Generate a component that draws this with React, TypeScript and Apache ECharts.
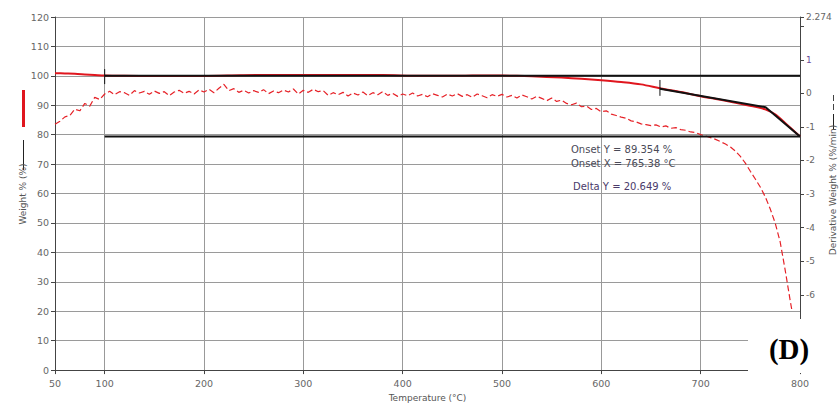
import React, { useEffect, useRef } from "react";
import * as echarts from "echarts";

// Weight % (left axis)
const weightTemps = [50, 60, 70, 80, 90, 100, 120, 150, 200, 237, 260, 300, 340, 380, 420, 450, 470, 500, 530, 560, 580, 600, 620, 640, 660, 680, 700, 720, 740, 755, 765, 775, 785, 795, 800];
const weightValues = [100.9, 100.8, 100.7, 100.5, 100.3, 100.1, 100.0, 99.95, 99.95, 100.2, 100.3, 100.3, 100.3, 100.25, 100.0, 100.0, 100.15, 100.1, 99.85, 99.4, 99.0, 98.5, 97.9, 97.1, 95.7, 94.5, 93.1, 91.85, 90.55, 89.5, 88.6, 86.9, 84.0, 80.9, 79.4];

// Derivative weight % (right axis)
const derivTemps = [50, 55, 60, 65, 70, 75, 80, 85, 90, 95, 100, 105, 110, 115, 120, 125, 130, 135, 140, 145, 150, 155, 160, 165, 170, 175, 180, 185, 190, 195, 200, 205, 210, 215, 220, 225, 230, 235, 240, 245, 250, 255, 260, 265, 270, 275, 280, 285, 290, 295, 300, 305, 310, 315, 320, 325, 330, 335, 340, 345, 350, 355, 360, 365, 370, 375, 380, 385, 390, 395, 400, 405, 410, 415, 420, 425, 430, 435, 440, 445, 450, 455, 460, 465, 470, 475, 480, 485, 490, 495, 500, 505, 510, 515, 520, 525, 530, 535, 540, 545, 550, 555, 560, 565, 570, 575, 580, 585, 590, 595, 600, 605, 610, 615, 620, 625, 630, 635, 640, 645, 650, 655, 660, 665, 670, 675, 680, 685, 690, 695, 700, 705, 710, 715, 720, 725, 730, 735, 740, 745, 750, 755, 760, 765, 770, 775, 780, 785, 790, 792];
const derivValues = [-0.92, -0.83, -0.70, -0.66, -0.47, -0.52, -0.30, -0.38, -0.12, -0.18, -0.02, 0.06, -0.04, 0.05, 0.02, -0.06, 0.08, 0.01, 0.06, -0.03, 0.07, 0.00, 0.05, -0.07, 0.04, 0.09, 0.00, 0.06, -0.02, 0.10, 0.04, 0.12, 0.02, 0.15, 0.27, 0.08, 0.14, 0.03, 0.09, 0.01, 0.08, 0.03, 0.11, -0.01, 0.07, 0.02, 0.10, 0.04, 0.13, -0.02, 0.09, 0.03, 0.12, 0.05, 0.08, -0.06, 0.02, -0.04, 0.03, -0.08, 0.01, -0.05, 0.04, -0.07, 0.02, -0.04, 0.05, -0.06, 0.00, -0.09, -0.02, -0.07, 0.01, -0.08, -0.03, -0.10, -0.01, -0.06, -0.11, -0.02, -0.08, -0.01, -0.09, -0.04, -0.12, -0.02, -0.07, -0.13, -0.04, -0.09, -0.03, -0.11, -0.06, -0.14, -0.05, -0.10, -0.17, -0.09, -0.15, -0.22, -0.14, -0.24, -0.20, -0.30, -0.34, -0.29, -0.40, -0.38, -0.48, -0.45, -0.55, -0.52, -0.62, -0.66, -0.71, -0.74, -0.82, -0.85, -0.91, -0.93, -0.96, -0.94, -1.00, -0.97, -1.04, -1.02, -1.08, -1.10, -1.15, -1.17, -1.23, -1.27, -1.32, -1.37, -1.44, -1.51, -1.60, -1.72, -1.88, -2.08, -2.32, -2.55, -2.79, -3.08, -3.44, -3.86, -4.42, -5.25, -6.15, -6.49];

// Onset analysis construction lines
const upperBaseline = [[100, 100], [800, 100]];
const lowerBaseline = [[100, 79.351], [800, 79.351]];
const tangentLine = [[659, 95.65], [765.38, 89.354], [800, 79.351]];
const onsetStartMark = [[659, 98.6], [659, 93.2]];
const baselineStartMark = [[100, 102.3], [100, 97.2]];

const annotations = ["Onset Y = 89.354 %", "Onset X = 765.38 °C", "Delta Y = 20.649 %"];
const hiddenRightLabels = [2, -7, -8];

const axisFont = "DejaVu Sans";

export default function App() {
  const ref = useRef<HTMLDivElement>(null);

  useEffect(() => {
    document.body.style.margin = "0";
    const chart = echarts.init(ref.current!, null, { renderer: "svg" });
    const pairs = (xs: number[], ys: number[]) => xs.map((x, i) => [x, ys[i]]);
    const blackLine = (data: number[][], width = 2) => ({
      type: "line",
      yAxisIndex: 0,
      data,
      symbol: "none",
      silent: true,
      lineStyle: { color: "#111", width },
      z: 4,
    });

    chart.setOption({
      animation: false,
      backgroundColor: "#ffffff",
      grid: { left: 55, right: 40, top: 17, bottom: 31 },
      xAxis: {
        type: "value",
        min: 50,
        max: 800,
        splitNumber: 8,
        name: "Temperature (°C)",
        nameLocation: "middle",
        nameGap: 19,
        nameTextStyle: { fontFamily: axisFont, fontSize: 9, color: "#555" },
        axisLine: { lineStyle: { color: "#444", width: 1 } },
        axisTick: { show: true, length: 4, lineStyle: { color: "#444" } },
        axisLabel: { fontFamily: axisFont, fontSize: 9.5, color: "#666", margin: 8 },
        splitLine: { show: true, lineStyle: { color: "#999", width: 1 } },
      },
      yAxis: [
        {
          type: "value",
          min: 0,
          max: 120,
          interval: 10,
          position: "left",
          axisLine: { show: true, lineStyle: { color: "#444", width: 1 } },
          axisTick: { show: true, length: 4, lineStyle: { color: "#444" } },
          axisLabel: { fontFamily: axisFont, fontSize: 9.5, color: "#666", margin: 6 },
          splitLine: { show: true, lineStyle: { color: "#9a9a9a", width: 1 } },
        },
        {
          type: "value",
          min: -8.243,
          max: 2.274,
          splitNumber: 10,
          position: "right",
          axisLine: { show: true, lineStyle: { color: "#444", width: 1 } },
          axisTick: { show: true, length: 4, lineStyle: { color: "#444" } },
          axisLabel: {
            fontFamily: axisFont,
            fontSize: 9,
            margin: 6,
            showMinLabel: true,
            showMaxLabel: true,
            hideOverlap: false,
            color: (v: any) => (String(v) === "1" ? "#6a4a9a" : "#666"),
            formatter: (v: number) => (hiddenRightLabels.includes(v) ? "" : String(v)),
          },
          splitLine: { show: false },
        },
      ],
      series: [
        {
          type: "line",
          name: "Weight",
          yAxisIndex: 0,
          data: pairs(weightTemps, weightValues),
          symbol: "none",
          smooth: 0.3,
          lineStyle: { color: "#e0161e", width: 2 },
          z: 3,
        },
        {
          type: "line",
          name: "Derivative Weight",
          yAxisIndex: 1,
          data: pairs(derivTemps, derivValues),
          symbol: "none",
          lineStyle: { color: "#e62228", width: 1.2, type: [6, 3] },
          z: 3,
        },
        blackLine(upperBaseline),
        blackLine(lowerBaseline),
        blackLine(tangentLine),
        blackLine(onsetStartMark, 1),
        blackLine(baselineStartMark, 1),
      ],
      graphic: [
        // left axis name with line samples
        { type: "rect", shape: { x: 22, y: 90, width: 3, height: 37 }, style: { fill: "#e0161e" }, z: 100 },
        { type: "line", shape: { x1: 23.5, y1: 140, x2: 23.5, y2: 170 }, style: { stroke: "#222", lineWidth: 1 }, z: 100 },
        {
          type: "text",
          x: 23,
          y: 194,
          rotation: Math.PI / 2,
          style: { text: "Weight % (%)", font: `9px ${axisFont}`, fill: "#555", align: "center", verticalAlign: "middle" },
          z: 100,
        },
        // right axis name with line samples
        { type: "line", shape: { x1: 833.5, y1: 95, x2: 833.5, y2: 101 }, style: { stroke: "#444", lineWidth: 1 }, z: 100 },
        { type: "line", shape: { x1: 833.5, y1: 104, x2: 833.5, y2: 110 }, style: { stroke: "#444", lineWidth: 1 }, z: 100 },
        { type: "line", shape: { x1: 833.5, y1: 114, x2: 833.5, y2: 130 }, style: { stroke: "#222", lineWidth: 1 }, z: 100 },
        {
          type: "text",
          x: 833,
          y: 190,
          rotation: Math.PI / 2,
          style: { text: "Derivative Weight % (%/min)", font: `9px ${axisFont}`, fill: "#555", align: "center", verticalAlign: "middle" },
          z: 100,
        },
        // onset annotations
        { type: "text", x: 571, y: 149, style: { text: annotations[0], font: `10px ${axisFont}`, fill: "#4a4a58", verticalAlign: "middle" }, z: 100 },
        { type: "text", x: 571, y: 163, style: { text: annotations[1], font: `10px ${axisFont}`, fill: "#4a4a58", verticalAlign: "middle" }, z: 100 },
        { type: "text", x: 573, y: 186, style: { text: annotations[2], font: `10px ${axisFont}`, fill: "#4a3a6a", verticalAlign: "middle" }, z: 100 },
        // (D) panel label on white box
        { type: "rect", shape: { x: 748, y: 319, width: 92, height: 54 }, style: { fill: "#ffffff" }, z: 100 },
        {
          type: "text",
          x: 789,
          y: 349,
          style: { text: "(D)", font: `bold 29px "Liberation Serif"`, fill: "#000", align: "center", verticalAlign: "middle" },
          z: 101,
        },
      ],
    });
    return () => chart.dispose();
  }, []);

  return <div ref={ref} style={{ position: "absolute", left: 0, top: 0, width: 840, height: 407 }} />;
}
